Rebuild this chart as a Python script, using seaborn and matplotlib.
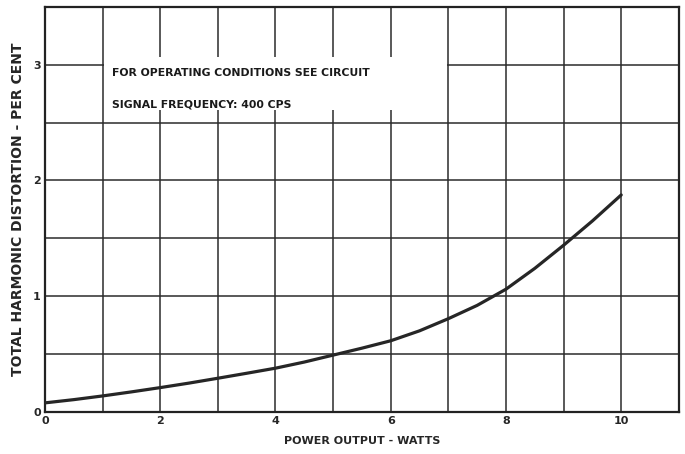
import numpy as np
import pandas as pd
import seaborn as sns
import matplotlib.pyplot as plt
from matplotlib.patches import Rectangle

# values
power_watts = [0, 0.5, 1, 1.5, 2, 2.5, 3, 3.5, 4, 4.5, 5, 5.5, 6, 6.5, 7, 7.5, 8, 8.5, 9, 9.5, 10]
thd_percent = [0.077, 0.105, 0.137, 0.172, 0.209, 0.248, 0.29, 0.333, 0.377, 0.43, 0.49,
               0.55, 0.614, 0.70, 0.805, 0.92, 1.06, 1.24, 1.44, 1.65, 1.875]

x_ticks = [0, 2, 4, 6, 8, 10]
y_ticks = [0, 1, 2, 3]
note_lines = ["FOR OPERATING CONDITIONS SEE CIRCUIT", "SIGNAL FREQUENCY: 400 CPS"]

df = pd.DataFrame({"power": power_watts, "thd": thd_percent})

sns.set_style("white")
plt.rcParams['font.family'] = ['DejaVu Sans']

fig = plt.figure(figsize=(6.85, 4.54), dpi=100)
ax = fig.add_axes([0.0657, 0.093, 0.9253, 0.8916])

ax.set_xlim(0, 11)
ax.set_ylim(0, 3.5)

# grid: every watt, every half per cent
xgrid = np.arange(0, 11.01, 1)
ygrid = np.arange(0, 3.51, 0.5)
ax.set_xticks(xgrid)
ax.set_yticks(ygrid)
ax.grid(True, color="#2b2b2b", linewidth=1.1)
ax.set_axisbelow(True)

sns.lineplot(data=df, x="power", y="thd", ax=ax, color="#262626", linewidth=2.3, zorder=3)

ax.set_xticklabels([str(int(v)) if int(v) in x_ticks else "" for v in xgrid],
                   fontsize=8, fontweight="bold")
ax.set_yticklabels([str(int(v)) if v in y_ticks else "" for v in ygrid],
                   fontsize=8, fontweight="bold")
ax.tick_params(length=0, pad=3)

for s in ax.spines.values():
    s.set_color("#222222")
    s.set_linewidth(1.6)

ax.set_xlabel("POWER OUTPUT - WATTS", fontsize=8, fontweight="bold", labelpad=7)
ax.set_ylabel("TOTAL HARMONIC DISTORTION - PER CENT", fontsize=10, fontweight="bold", labelpad=6)

# white panel behind the note, blanking the grid between x=1 and x=7
ax.add_patch(Rectangle((1.02, 2.61), 5.96, 0.46, facecolor="white", edgecolor="none", zorder=1.5))
ax.text(1.16, 2.93, note_lines[0], fontsize=7.8, fontweight="bold",
        va="center", ha="left", color="#1a1a1a", zorder=4)
ax.text(1.16, 2.655, note_lines[1], fontsize=7.8, fontweight="bold",
        va="center", ha="left", color="#1a1a1a", zorder=4)

fig.savefig("out.png", dpi=100)
